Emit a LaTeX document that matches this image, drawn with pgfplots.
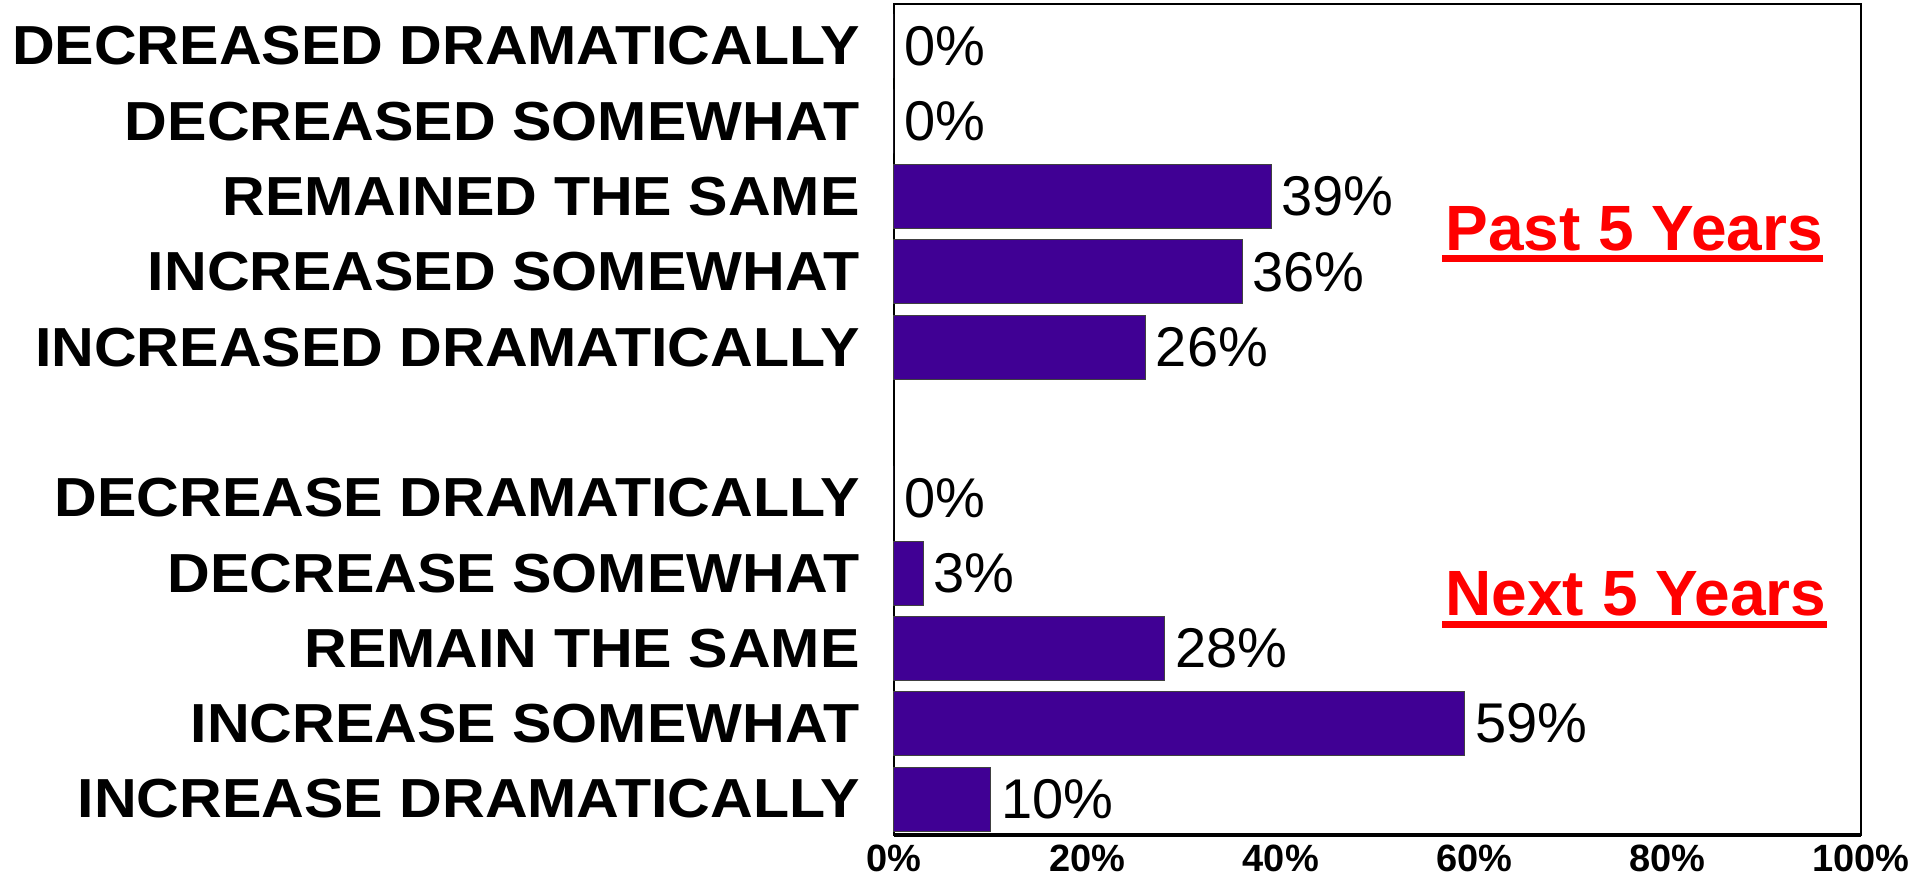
\documentclass[border=0pt]{standalone}
\usepackage{fontspec}
\setmainfont{Liberation Sans}
\newfontfamily\lblfont[FakeStretch=1.075]{Liberation Sans}
\usepackage{pgfplots}
\pgfplotsset{compat=1.18}
\definecolor{barpurple}{RGB}{64,0,148}
\definecolor{annred}{RGB}{255,0,0}
\begin{document}
\begin{tikzpicture}
\useasboundingbox (0,0) rectangle (956.5pt,439.5pt);
\begin{axis}[
  at={(447pt,22pt)}, anchor=south west,
  scale only axis,
  width=483.5pt, height=415.5pt,
  xbar,
  xmin=0, xmax=100,
  ymin=-0.478, ymax=10.558,
  bar width=0.85,
  axis line style={black, line width=0.75pt},
  major tick length=0pt,
  xtick={0,20,40,60,80,100},
  xticklabels={0\%,20\%,40\%,60\%,80\%,100\%},
  xticklabel style={font=\fontsize{19}{19}\selectfont\bfseries, inner sep=0pt, anchor=north, yshift=-5pt},
  ytick={0,1,2,3,4,6,7,8,9,10},
  yticklabels={INCREASE DRAMATICALLY, INCREASE SOMEWHAT, REMAIN THE SAME, DECREASE SOMEWHAT, DECREASE DRAMATICALLY, INCREASED DRAMATICALLY, INCREASED SOMEWHAT, REMAINED THE SAME, DECREASED SOMEWHAT, DECREASED DRAMATICALLY},
  yticklabel style={font=\lblfont\fontsize{27.5}{27.5}\selectfont\bfseries, inner sep=0pt, anchor=east, xshift=-17pt},
  /pgf/number format/assume math mode=true,
  nodes near coords={\pgfmathprintnumber[fixed,precision=0]{\pgfplotspointmeta}\%},
  point meta=x,
  nodes near coords style={font=\fontsize{28}{28}\selectfont, inner sep=0pt, anchor=west, xshift=5pt, black},
  clip=false,
]
\addplot[fill=barpurple, draw=black!75, line width=0.5pt] coordinates {
  (0,10) (0,9) (39,8) (36,7) (26,6)
  (0,4) (3,3) (28,2) (59,1) (10,0)
};
\draw[black, line width=1.6pt] (axis cs:0,-0.478) -- (axis cs:100,-0.478);
\node[anchor=base west, inner sep=0pt, text=annred, font=\fontsize{32}{32}\selectfont\bfseries] at (axis cs:57.0,7.29) {Past 5 Years};
\draw[annred, line width=3.5pt] (axis cs:56.7,7.178) -- (axis cs:96.1,7.178);
\node[anchor=base west, inner sep=0pt, text=annred, font=\fontsize{32}{32}\selectfont\bfseries] at (axis cs:57.0,2.44) {Next 5 Years};
\draw[annred, line width=3.5pt] (axis cs:56.7,2.311) -- (axis cs:96.5,2.311);
\end{axis}
\end{tikzpicture}
\end{document}
